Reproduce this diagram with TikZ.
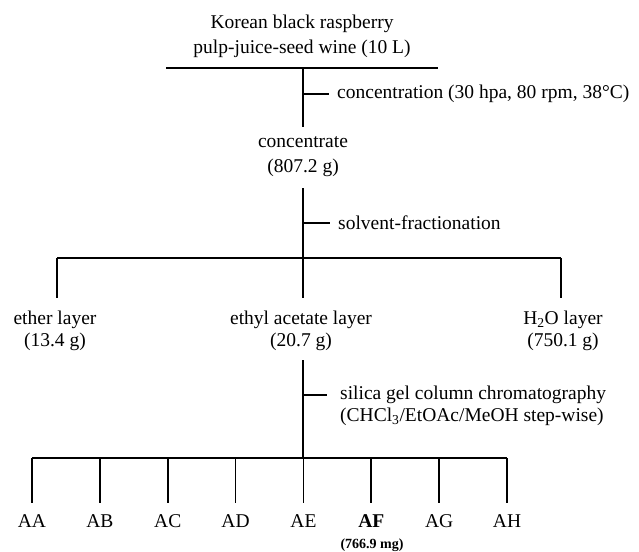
\documentclass[tikz,border=0pt]{standalone}
\usepackage{fontspec}
\setmainfont{Liberation Serif}
\tikzset{
  txt/.style={font=\fontsize{19.5}{24}\selectfont, inner sep=0pt, align=center},
  trunk/.style={-, line width=1.8pt, draw=black},
  bar/.style={-, line width=1.3pt, draw=black}
}
\begin{document}
\begin{tikzpicture}[x=1pt, y=-1pt]
\useasboundingbox (0,0) rectangle (639,551);
\node[txt, font=\fontsize{19.5}{25}\selectfont] (wine) at (302,36) {Korean black raspberry\\pulp-juice-seed wine (10 L)};
\coordinate (w1) at (166,68);
\coordinate (w2) at (438,68);
\coordinate (w0) at (303,68);
\coordinate (w3) at (303,127);
\coordinate (k1) at (303,94);
\coordinate (k1e) at (329,94);
\node[txt, anchor=west] (conc step) at (337,94) {concentration (30 hpa, 80 rpm, 38°C)};
\node[txt, font=\fontsize{19.5}{25}\selectfont] (conc) at (303,157) {concentrate\\(807.2 g)};
\coordinate (c0) at (303,188);
\coordinate (c1) at (303,258);
\coordinate (k2) at (303,223);
\coordinate (k2e) at (330,223);
\node[txt, anchor=west] (frac step) at (338,223) {solvent-fractionation};
\coordinate (b1) at (57,258);
\coordinate (b2) at (561,258);
\coordinate (e1) at (57,298);
\coordinate (e2) at (303,298);
\coordinate (e3) at (561,298);
\node[txt, font=\fontsize{19.5}{22}\selectfont] (ether) at (55,331) {ether layer\\(13.4 g)};
\node[txt, font=\fontsize{19.5}{22}\selectfont] (ethyl) at (301,331) {ethyl acetate layer\\(20.7 g)};
\node[txt, font=\fontsize{19.5}{22}\selectfont] (water) at (563,331) {H\textsubscript{2}O layer\\(750.1 g)};
\coordinate (d0) at (303,360);
\coordinate (d1) at (303,458);
\coordinate (k3) at (303,395);
\coordinate (k3e) at (327,395);
\node[txt, font=\fontsize{19.5}{22}\selectfont, align=left, anchor=west] (col step) at (340,406) {silica gel column chromatography\\(CHCl\textsubscript{3}/EtOAc/MeOH step-wise)};
\coordinate (a1) at (32,458);
\coordinate (a2) at (507,458);
\path [trunk] (w1) edge (w2);
\path [trunk] (w0) edge (w3);
\path [bar] (k1) edge (k1e);
\path [trunk] (c0) edge (c1);
\path [bar] (k2) edge (k2e);
\path [bar] (b1) edge (b2);
\path [trunk] (b1) edge (e1);
\path [trunk] (c1) edge (e2);
\path [trunk] (b2) edge (e3);
\path [trunk] (d0) edge (d1);
\path [bar] (k3) edge (k3e);
\path [bar] (a1) edge (a2);
\foreach \name/\label [count=\i from 0] in {AA/AA, AB/AB, AC/AC, AD/AD, AE/AE, AF/\textbf{AF}, AG/AG, AH/AH} {
  \coordinate (t\name) at (32+67.857*\i,458);
  \coordinate (u\name) at (32+67.857*\i,503);
  \node[txt] (\name) at (32+67.857*\i,521) {\label};
  \path [trunk] (t\name) edge (u\name);
}
\node[txt, font=\fontsize{14}{16}\bfseries] (AF mass) at (372,545) {(766.9 mg)};
\end{tikzpicture}
\end{document}
